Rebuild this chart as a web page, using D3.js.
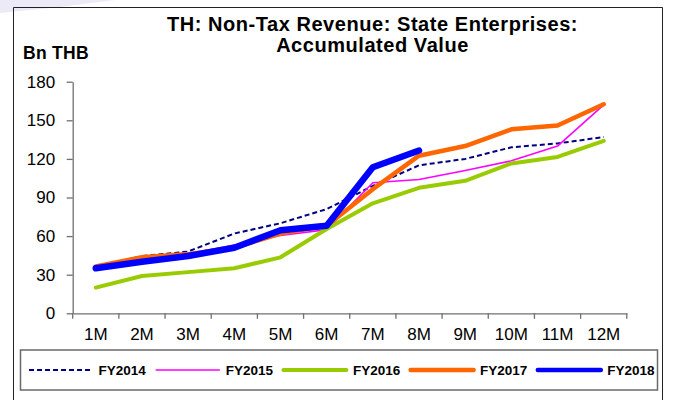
<!DOCTYPE html>
<html>
<head>
<meta charset="utf-8">
<script src="https://cdn.jsdelivr.net/npm/d3@7"></script>
<style>
  html, body { margin: 0; padding: 0; background: #fff; }
  svg { display: block; font-family: Arial, "Liberation Sans", sans-serif; }
</style>
</head>
<body>
<svg id="chart" width="673" height="400"></svg>
<script>
// Monthly accumulated non-tax revenue from state enterprises, Bn THB
const months = ["1M", "2M", "3M", "4M", "5M", "6M", "7M", "8M", "9M", "10M", "11M", "12M"];
const fy2014 = [36, 44.5, 48, 62, 70, 81, 99, 115, 120, 129, 132, 137];
const fy2015 = [36, 43, 46, 53, 60.5, 65, 101.5, 104, 111, 118.5, 130, 162];
const fy2016 = [20, 29, 32, 35, 43.5, 65.5, 85.5, 97.5, 103, 116.5, 121.5, 134];
const fy2017 = [36.5, 43.5, 46, 51, 62, 68, 96.5, 122.5, 130, 143, 146, 162.5];
const fy2018 = [35, 40, 44.5, 51, 64.5, 68, 113.5, 126.5];
const yTicks = [0, 30, 60, 90, 120, 150, 180];
const seriesNames = ["FY2014", "FY2015", "FY2016", "FY2017", "FY2018"];

const seriesStyle = {
  FY2014: { color: "#000080", width: 2, dash: "5,3" },
  FY2015: { color: "#FF00FF", width: 1.6, dash: null },
  FY2016: { color: "#99CC00", width: 4, dash: null },
  FY2017: { color: "#FF6600", width: 4.5, dash: null },
  FY2018: { color: "#0000FF", width: 6.5, dash: null }
};
const seriesData = { FY2014: fy2014, FY2015: fy2015, FY2016: fy2016, FY2017: fy2017, FY2018: fy2018 };

const svg = d3.select("#chart");

// faint decoration in the top-left corner
svg.append("path")
  .attr("d", "M0,0 L115,0 L60,7 L0,13 Z")
  .attr("fill", "#eceaf7");

// outer frame
svg.append("path")
  .attr("d", "M13.5,401 L13.5,7.5 L662.5,7.5 L662.5,401")
  .attr("fill", "none")
  .attr("stroke", "#222")
  .attr("stroke-width", 1);

// title
const title = svg.append("text")
  .attr("text-anchor", "middle")
  .attr("font-weight", "bold")
  .attr("font-size", 20)
  .attr("letter-spacing", 0.55)
  .attr("fill", "#000");
title.append("tspan").attr("x", 372.5).attr("y", 30.7).text("TH: Non-Tax Revenue: State Enterprises:");
title.append("tspan").attr("x", 372.5).attr("y", 51.7).text("Accumulated Value");

// unit label
svg.append("text")
  .attr("x", 23)
  .attr("y", 59.3)
  .attr("font-weight", "bold")
  .attr("font-size", 17.5)
  .attr("letter-spacing", 0.3)
  .text("Bn THB");

const x = d3.scaleBand().domain(months).range([72.7, 626.8]).paddingInner(0).paddingOuter(0);
const y = d3.scaleLinear().domain([0, 180]).range([313.3, 81.7]);

// y axis
const yAxis = svg.append("g")
  .attr("transform", "translate(72.7,0)")
  .call(d3.axisLeft(y).tickValues(yTicks).tickSize(6).tickPadding(11.5).tickSizeOuter(0));
yAxis.select(".domain").attr("stroke", "#707070").attr("stroke-width", 1.3);
yAxis.selectAll(".tick line").attr("stroke", "#707070").attr("stroke-width", 1.3);
yAxis.selectAll(".tick text")
  .attr("font-size", 17)
  .attr("font-family", "Arial, 'Liberation Sans', sans-serif")
  .attr("fill", "#000");

// x axis: labels centred in each month, ticks on the month boundaries
const xAxis = svg.append("g")
  .attr("transform", "translate(0,313.3)")
  .call(d3.axisBottom(x).tickSize(0).tickPadding(14.5).tickSizeOuter(0));
xAxis.select(".domain").attr("stroke", "#707070").attr("stroke-width", 1.3);
xAxis.selectAll(".tick text")
  .attr("font-size", 17)
  .attr("font-family", "Arial, 'Liberation Sans', sans-serif")
  .attr("fill", "#000");
const boundaries = months.map(m => x(m)).concat([x(months[months.length - 1]) + x.bandwidth()]);
xAxis.selectAll(".bound")
  .data(boundaries)
  .enter().append("line")
  .attr("class", "bound")
  .attr("x1", d => d).attr("x2", d => d)
  .attr("y1", 0).attr("y2", 5.5)
  .attr("stroke", "#707070").attr("stroke-width", 1.3);

// series lines
const line = d3.line()
  .x((d, i) => x(months[i]) + x.bandwidth() / 2)
  .y(d => y(d));

const plot = svg.append("g");
seriesNames.forEach(name => {
  const st = seriesStyle[name];
  plot.append("path")
    .datum(seriesData[name])
    .attr("d", line)
    .attr("fill", "none")
    .attr("stroke", st.color)
    .attr("stroke-width", st.width)
    .attr("stroke-linejoin", "round")
    .attr("stroke-linecap", st.dash ? "butt" : "round")
    .attr("stroke-dasharray", st.dash);
});

// legend
const legend = svg.append("g");
legend.append("rect")
  .attr("x", 20.5).attr("y", 350).attr("width", 637).attr("height", 40)
  .attr("fill", "#fff")
  .attr("stroke", "#6a6a6a")
  .attr("stroke-width", 1.5);

const legendStep = 127.2;
const items = legend.selectAll(".item")
  .data(seriesNames)
  .enter().append("g")
  .attr("class", "item")
  .attr("transform", (d, i) => `translate(${29 + i * legendStep},370)`);
items.append("line")
  .attr("x1", 0).attr("x2", 63)
  .attr("y1", 0).attr("y2", 0)
  .attr("stroke", d => seriesStyle[d].color)
  .attr("stroke-width", d => Math.min(seriesStyle[d].width, 4.5))
  .attr("stroke-linecap", d => seriesStyle[d].dash ? "butt" : "round")
  .attr("stroke-dasharray", d => seriesStyle[d].dash);
items.append("text")
  .attr("x", 69.5)
  .attr("y", 5)
  .attr("font-weight", "bold")
  .attr("font-size", 13.5)
  .text(d => d);
</script>
</body>
</html>
